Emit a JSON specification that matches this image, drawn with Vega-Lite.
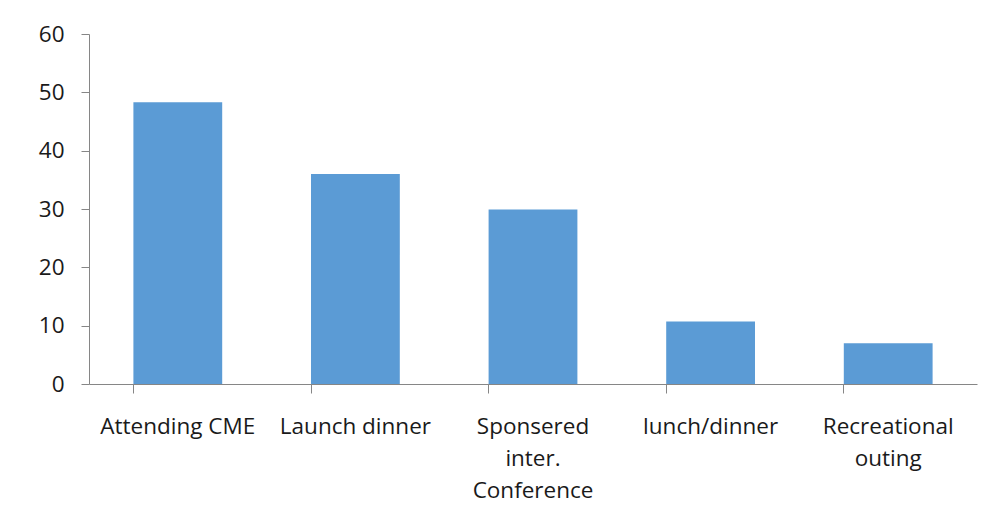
{
  "$schema": "https://vega.github.io/schema/vega-lite/v6.json",
  "width": 888,
  "height": 350,
  "autosize": {"type": "none"},
  "padding": {"left": 89, "top": 34, "right": 16, "bottom": 147},
  "background": "white",
  "config": {"view": {"stroke": null}, "font": "Open Sans"},
  "data": {"values": [
    {"category": "Attending CME", "value": 48.3},
    {"category": "Launch dinner", "value": 36},
    {"category": "Sponsered inter. Conference", "value": 29.9},
    {"category": "lunch/dinner", "value": 10.7},
    {"category": "Recreational outing", "value": 7}
  ]},
  "mark": {"type": "bar", "color": "#5B9BD5"},
  "encoding": {
    "x": {
      "field": "category", "type": "nominal", "sort": null,
      "scale": {"paddingInner": 0.5, "paddingOuter": 0.25},
      "axis": {
        "title": null, "labelAngle": 0, "domainColor": "#868686", "tickColor": "#868686",
        "tickSize": 9, "bandPosition": 0, "labelFontSize": 22.5, "labelColor": "#1a1a1a",
        "labelPadding": 22, "labelLineHeight": 32, "labelFont": "Open Sans",
        "labelExpr": "datum.value == 'Sponsered inter. Conference' ? ['Sponsered','inter.','Conference'] : datum.value == 'Recreational outing' ? ['Recreational','outing'] : datum.value",
        "labelBaseline": "top", "labelLimit": 220
      }
    },
    "y": {
      "field": "value", "type": "quantitative",
      "scale": {"domain": [0, 60], "nice": false},
      "axis": {
        "title": null, "values": [0, 10, 20, 30, 40, 50, 60], "grid": false,
        "domainColor": "#868686", "tickColor": "#868686", "tickSize": 8,
        "labelFontSize": 22.5, "labelColor": "#1a1a1a", "labelPadding": 17, "labelFont": "Open Sans"
      }
    }
  }
}
